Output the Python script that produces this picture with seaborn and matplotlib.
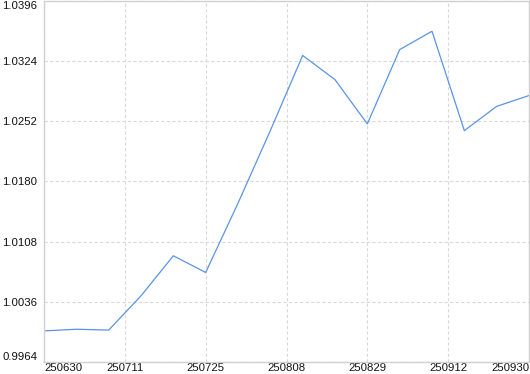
import matplotlib
matplotlib.use("Agg")
import matplotlib.pyplot as plt
import seaborn as sns
import pandas as pd
import numpy as np

# data
values = [1.0001, 1.0003, 1.0002, 1.0043, 1.0091, 1.0071, 1.0154, 1.0241,
          1.0331, 1.0302, 1.0249, 1.0338, 1.0360, 1.0241, 1.0270, 1.0283]
x_labels = ["250630", "250711", "250725", "250808", "250829", "250912", "250930"]
y_ticks = [0.9964, 1.0036, 1.0108, 1.0180, 1.0252, 1.0324, 1.0396]

sns.set_theme(style="white")
plt.rcParams['font.family'] = ['Liberation Sans', 'DejaVu Sans']

df = pd.DataFrame({"idx": np.arange(len(values)), "value": values})

fig = plt.figure(figsize=(5.30, 3.74), dpi=100)
ax = fig.add_axes([44 / 530, (374 - 361.8) / 374, 485 / 530, 360.6 / 374])

sns.lineplot(data=df, x="idx", y="value", ax=ax, color="#5b93e6", linewidth=0.9)

n = len(values) - 1
xt = np.linspace(0, n, len(x_labels))
ax.set_xlim(0, n)
ax.set_ylim(y_ticks[0], y_ticks[-1])
ax.set_xticks(xt)
ax.set_xticklabels(x_labels)
ax.set_yticks(y_ticks)
ax.set_yticklabels([f"{v:.4f}" for v in y_ticks])
ax.set_xlabel("")
ax.set_ylabel("")

ax.grid(True, color="#d9d9d9", linestyle=(0, (3, 2)), linewidth=0.8)
for s in ax.spines.values():
    s.set_color("#d0d0d0")
    s.set_linewidth(1.0)

ax.tick_params(axis="both", length=0, labelsize=8.2, colors="#111111")
ax.tick_params(axis="x", pad=1)
ax.tick_params(axis="y", pad=5)

xl = ax.get_xticklabels()
xl[0].set_ha("left")
xl[-1].set_ha("right")
yl = ax.get_yticklabels()
yl[0].set_va("bottom")
yl[-1].set_va("top")

fig.savefig("out.png", dpi=100)
